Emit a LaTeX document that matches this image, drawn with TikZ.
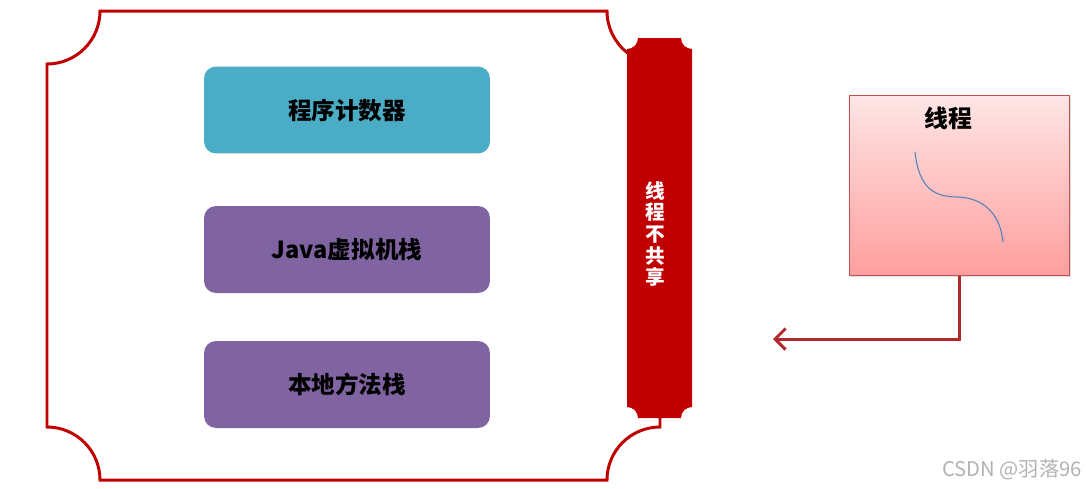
\documentclass[tikz,border=0pt]{standalone}
\usepackage{fontspec}
\setmainfont{Noto Sans CJK SC}
\usetikzlibrary{arrows.meta}
\definecolor{framered}{HTML}{C00000}
\definecolor{tealbox}{HTML}{4BACC6}
\definecolor{purplebox}{HTML}{8064A2}
\definecolor{arrowred}{HTML}{B0292D}
\definecolor{threadborder}{HTML}{C0504D}
\definecolor{curveblue}{HTML}{4F81BD}
\tikzset{
  membox/.style={rounded corners=0.24cm, minimum width=5.72cm, minimum height=1.74cm,
    font=\fontsize{13.4pt}{15pt}\selectfont\bfseries, text=black, inner sep=0pt},
  frameline/.style={draw=framered, line width=1.7pt},
  connector/.style={draw=arrowred, line width=1.7pt,
    -{Straight Barb[length=6pt,width=12pt,line width=1.7pt]}},
}
\begin{document}
\begin{tikzpicture}[x=0.02cm,y=-0.02cm]
\useasboundingbox (0,0) rectangle (1086,488);
% outer frame
\draw[frameline] (100,11) -- (607,11)
  arc[start angle=180,end angle=128.5,radius=53]
  -- (645,60) -- (660,400) -- (660,427)
  arc[start angle=270,end angle=180,radius=53]
  -- (100,480)
  arc[start angle=0,end angle=-90,radius=53]
  -- (47,64)
  arc[start angle=90,end angle=0,radius=53] -- cycle;
% red bar
\fill[framered] (638,38) -- (681,38)
  arc[start angle=180,end angle=90,radius=11]
  -- (692,407)
  arc[start angle=270,end angle=180,radius=11]
  -- (638,418)
  arc[start angle=0,end angle=-90,radius=11]
  -- (627,49)
  arc[start angle=90,end angle=0,radius=11] -- cycle;
\node[text=white, font=\fontsize{11.2pt}{12.3pt}\selectfont\bfseries, align=center, inner sep=0pt]
  (bartext) at (655,234) {线\\程\\不\\共\\享};
% memory boxes
\node[membox, fill=tealbox] (pc) at (347,110) {程序计数器};
\node[membox, fill=purplebox] (jvm) at (347,249.5) {Java虚拟机栈};
\node[membox, fill=purplebox] (native) at (347,384.5) {本地方法栈};
% thread box
\fill[black!25, opacity=0.5] (851,97) rectangle (1071,277);
\node[draw=threadborder, line width=0.6pt, top color=red!10, bottom color=red!38!white,
  minimum width=4.4cm, minimum height=3.6cm, inner sep=0pt, anchor=north west]
  (thread) at (849,95) {};
\node[font=\fontsize{13.6pt}{15pt}\selectfont\bfseries, inner sep=0pt] (threadlabel) at (948,118) {线程};
\draw[curveblue, line width=0.6pt] (915,152) .. controls (919,190) and (936,197) .. (958,197)
  .. controls (982,198) and (1000,212) .. (1003,242);
% arrow
\coordinate (arrowend) at (773,339);
\draw[connector] (thread.south) |- (arrowend);
% watermark
\node[text=black!30, font=\fontsize{11.5pt}{13pt}\selectfont, anchor=east, inner sep=0pt]
  (wm) at (1082,470) {CSDN @羽落96};
\end{tikzpicture}
\end{document}
